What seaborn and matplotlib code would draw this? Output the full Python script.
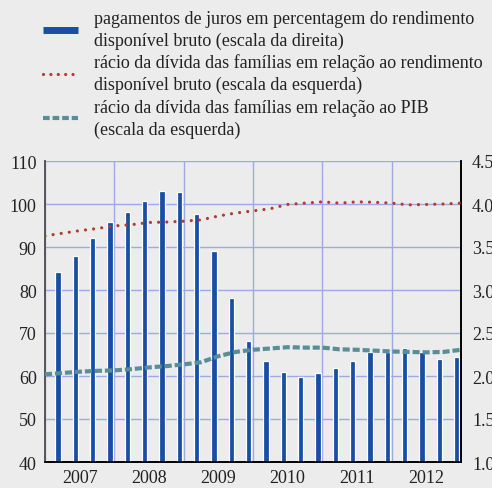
import numpy as np
import matplotlib
matplotlib.use('Agg')
import matplotlib.pyplot as plt
import seaborn as sns
from matplotlib.lines import Line2D

# data
years = ['2007', '2008', '2009', '2010', '2011', '2012']
# interest payments, % of gross disposable income (right scale), quarterly
juros = [3.21, 3.40, 3.60, 3.79, 3.91, 4.03, 4.15, 4.14,
         3.88, 3.45, 2.91, 2.41, 2.17, 2.05, 1.99, 2.03,
         2.09, 2.18, 2.28, 2.28, 2.33, 2.28, 2.20, 2.22]
# household debt / gross disposable income (left scale), at quarter boundaries
divida_rdb = [92.6, 93.2, 93.8, 94.3, 94.9, 95.2, 95.7, 95.8, 96.0, 96.3,
              97.2, 97.9, 98.4, 98.9, 99.9, 100.2, 100.5, 100.2, 100.5,
              100.4, 100.2, 99.8, 99.9, 100.0, 100.2]
# household debt / GDP (left scale), at quarter boundaries
divida_pib = [60.4, 60.7, 61.0, 61.2, 61.3, 61.6, 62.0, 62.3, 62.7, 63.2,
              64.6, 65.6, 66.1, 66.4, 66.7, 66.6, 66.6, 66.2, 66.1, 65.9,
              65.7, 65.6, 65.5, 65.6, 66.1]
labels = ['pagamentos de juros em percentagem do rendimento\ndisponível bruto (escala da direita)',
          'rácio da dívida das famílias em relação ao rendimento\ndisponível bruto (escala da esquerda)',
          'rácio da dívida das famílias em relação ao PIB\n(escala da esquerda)']

bg = '#ECECEC'
grid_c = '#9DA9E3'
blue = '#164FA3'
red = '#B23A2E'
teal = '#5A8E97'
txt = '#222222'

sns.set_style('white')
plt.rcParams['font.family'] = ['Liberation Serif', 'DejaVu Serif']

fig = plt.figure(figsize=(4.92, 4.89), dpi=100, facecolor=bg)
ax = fig.add_axes([45/492, 1 - 463/489, 416/492, 301/489])
ax.set_facecolor(bg)

# bars on the base axes (right scale)
bar_x = np.arange(len(juros)) + 0.75
sns.barplot(x=bar_x, y=juros, native_scale=True, width=0.32, color=blue,
            edgecolor='white', linewidth=0.9, saturation=1, ax=ax, zorder=3)

# lines on the twin axes (left scale)
ax2 = ax.twinx()
line_x = np.arange(len(divida_rdb))
sns.lineplot(x=line_x, y=divida_rdb, ax=ax2, color=red, lw=2.3,
             linestyle=(0, (0.01, 2.55)), dash_capstyle='round', zorder=4)
sns.lineplot(x=line_x, y=divida_pib, ax=ax2, color=teal, lw=3.0,
             linestyle=(0, (1.7, 0.7)), zorder=4)

ax.set_ylim(1.0, 4.5)
ax.set_yticks(np.arange(1.0, 4.51, 0.5))
ax.set_yticklabels([f'{v:.1f}' for v in np.arange(1.0, 4.51, 0.5)])
ax.yaxis.tick_right()
ax.tick_params(axis='y', length=0, pad=8, labelsize=13, labelcolor=txt)

ax2.set_ylim(40, 110)
ax2.set_yticks(range(40, 111, 10))
ax2.yaxis.tick_left()
ax2.tick_params(axis='y', length=0, pad=6, labelsize=13, labelcolor=txt)
ax2.set_ylabel('')

ax.set_xlim(0, 24)
ax.set_xticks(range(0, 25, 4))
ax.set_xticklabels([])
ax.set_xticks(np.arange(2, 24, 4), minor=True)
ax.set_xticklabels(years, minor=True)
ax.tick_params(axis='x', which='major', length=5, width=1.2, direction='out', color='black')
ax.tick_params(axis='x', which='minor', length=0, pad=5, labelsize=13, labelcolor=txt)

ax.grid(True, color=grid_c, lw=1)
ax.set_axisbelow(True)
for a in (ax, ax2):
    a.spines['top'].set_visible(False)
    a.spines['left'].set_color('#555555')
    a.spines['left'].set_linewidth(1.2)
    a.spines['right'].set_color('black')
    a.spines['right'].set_linewidth(1.2)
    a.spines['bottom'].set_color('black')
    a.spines['bottom'].set_linewidth(1.2)

handles = [Line2D([], [], color=blue, lw=5, solid_capstyle='butt'),
           Line2D([], [], color=red, lw=2.3, linestyle=(0, (0.01, 2.3)), dash_capstyle='round'),
           Line2D([], [], color=teal, lw=3.0, linestyle=(0, (1.6, 0.7)))]
leg = fig.legend(handles, labels, loc='upper left', bbox_to_anchor=(43/492, 1 - 11/489),
                 frameon=False, fontsize=13, labelspacing=0.25, handlelength=1.95,
                 handletextpad=0.85, borderpad=0, borderaxespad=0, labelcolor=txt)
for t in leg.get_texts():
    t.set_linespacing(1.35)

fig.savefig('out.png', dpi=100, facecolor=bg)
